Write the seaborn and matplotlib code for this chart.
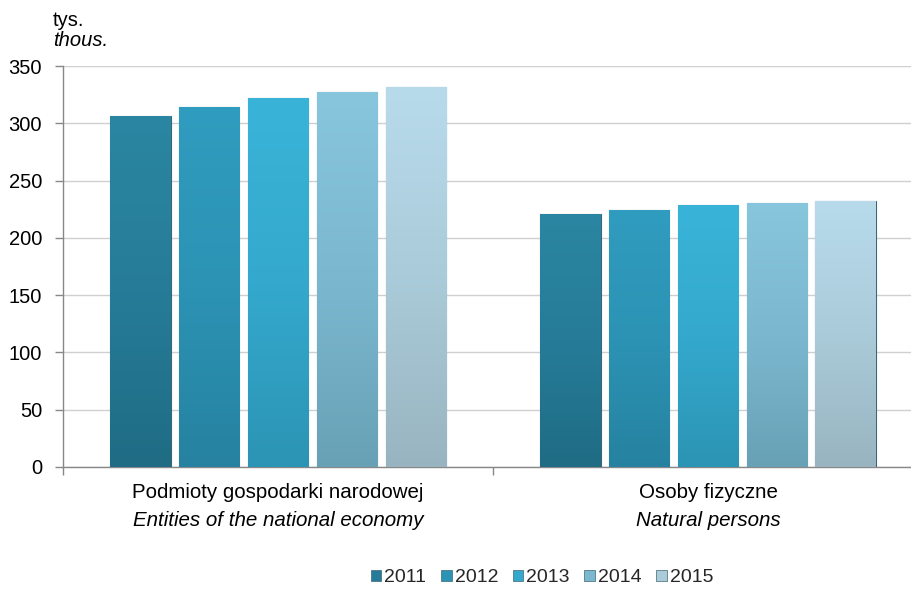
import numpy as np
import pandas as pd
import matplotlib
matplotlib.use("Agg")
import matplotlib.pyplot as plt
import seaborn as sns
from matplotlib.colors import LinearSegmentedColormap
from matplotlib.patches import Patch

categories = ["Podmioty gospodarki narodowej", "Osoby fizyczne"]
categories_en = ["Entities of the national economy", "Natural persons"]
years = ["2011", "2012", "2013", "2014", "2015"]
values_entities = [306, 314, 322, 327, 332]
values_persons = [221, 224, 229, 230, 232]

top_colors = ["#2a86a2", "#309cbf", "#39b4d8", "#88c6de", "#b8dbec"]
bottom_colors = ["#1f6c84", "#2682a0", "#2c94b4", "#68a1b6", "#99b4c1"]
mid_colors = ["#267c98", "#2c93b4", "#34a9cd", "#7bb8cf", "#aacbd9"]

sns.set_theme(style="white")
plt.rcParams['font.family'] = ['Liberation Sans', 'DejaVu Sans']

rows = []
for c, vals in zip(categories, [values_entities, values_persons]):
    for y, v in zip(years, vals):
        rows.append({"cat": c, "year": y, "value": v})
df = pd.DataFrame(rows)

fig = plt.figure(figsize=(9.12, 5.90), dpi=100)
ax = fig.add_axes([63/912, 123/590, 860/912, 401/590])

sns.barplot(data=df, x="cat", y="value", hue="year", hue_order=years,
            palette=mid_colors, width=0.8, gap=0.125, ax=ax, legend=False,
            edgecolor="none", zorder=3)

ax.set_ylim(0, 350)
ax.set_xlim(-0.5, 1.5)
ax.set_yticks(range(0, 351, 50))
ax.yaxis.grid(True, color="#d0d0d0", linewidth=1.0, zorder=0)
ax.set_axisbelow(True)
ax.set_xlabel("")
ax.set_ylabel("")

# gradient fill for bars
bars = [p for p in ax.patches]
for i, p in enumerate(bars):
    yi = i // len(categories)
    x0, y0 = p.get_x(), p.get_y()
    w, h = p.get_width(), p.get_height()
    cmap = LinearSegmentedColormap.from_list("g", [bottom_colors[yi], mid_colors[yi], top_colors[yi]])
    grad = np.linspace(0, 1, 256).reshape(-1, 1)
    im = ax.imshow(grad, cmap=cmap, origin="lower", aspect="auto",
                   extent=[x0, x0 + w, y0, y0 + h], zorder=3)
    im.set_clip_path(p)
    p.set_facecolor("none")
    p.set_edgecolor("#3d6674")
    p.set_linewidth(0.8)
ax.set_xlim(-0.5, 1.5)
ax.set_ylim(0, 350)

for s in ["top", "right"]:
    ax.spines[s].set_visible(False)
for s in ["left", "bottom"]:
    ax.spines[s].set_color("#888888")
    ax.spines[s].set_linewidth(1.0)

ax.set_xticks([-0.5, 0.5, 1.5])
ax.set_xticklabels([])
ax.tick_params(axis="x", direction="out", length=6, color="#888888", width=1, bottom=True)
ax.tick_params(axis="y", direction="out", length=6, color="#888888", width=1, left=True,
               labelsize=14.5, labelcolor="#000000", pad=9)

for i, (pl, en) in enumerate(zip(categories, categories_en)):
    ax.text(i, -(493 - 467) / 401, pl, transform=ax.get_xaxis_transform(), ha="center",
            va="center", fontsize=14.8, color="#000000")
    ax.text(i, -(521 - 467) / 401, en, transform=ax.get_xaxis_transform(), ha="center",
            va="center", fontsize=14.8, color="#000000", style="italic")

fig.text(53/912, 1 - 21/590, "tys.", ha="left", va="center", fontsize=14.5, color="#000000")
fig.text(53/912, 1 - 41/590, "thous.", ha="left", va="center", fontsize=14.5, color="#000000",
         style="italic")

handles = [Patch(facecolor=mid_colors[i], edgecolor="#3d6674", linewidth=0.5) for i in range(len(years))]
fig.legend(handles, years, loc="center", bbox_to_anchor=(542/912, 1 - 578/590), ncol=5,
           frameon=False, fontsize=14, handlelength=0.55, handleheight=0.55,
           handletextpad=0.15, columnspacing=0.75)

fig.savefig("out.png", dpi=100)
